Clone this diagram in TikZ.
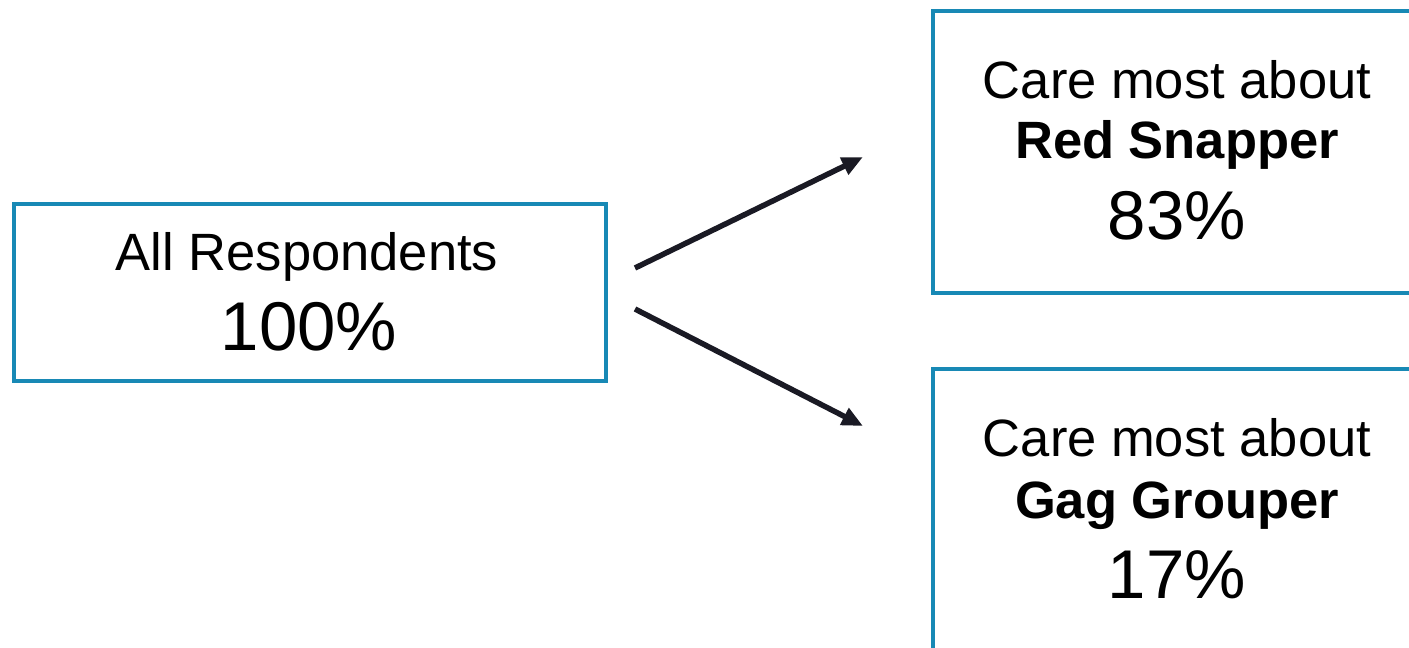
\documentclass[tikz,border=0pt]{standalone}
\usepackage{fontspec}
\setmainfont{Liberation Sans}
\usetikzlibrary{arrows.meta}
\definecolor{boxblue}{RGB}{24,137,181}
\definecolor{arrowdark}{RGB}{26,26,36}
\tikzset{
  box/.style={draw=boxblue, line width=4pt, fill=none, inner sep=0pt, outer sep=0pt},
  lbl/.style={anchor=base, inner sep=0pt, font=\fontsize{52.5}{60}\selectfont},
  blbl/.style={anchor=base, inner sep=0pt, font=\fontsize{52.5}{60}\selectfont\bfseries},
  pct/.style={anchor=base, inner sep=0pt, font=\fontsize{69}{80}\selectfont},
  conn/.style={draw=arrowdark, line width=5.5pt, -{Triangle[length=21pt,width=18pt]}}
}
\begin{document}
\begin{tikzpicture}[x=1pt,y=-1pt]
\useasboundingbox (0,0) rectangle (1409,648);
% boxes
\node[box, minimum width=592.5pt, minimum height=177.5pt] (all) at (309.75,292.25) {};
\node[box, minimum width=489pt, minimum height=282pt] (red) at (1177,151.5) {};
\node[box, minimum width=489pt, minimum height=282pt] (gag) at (1177,509.5) {};
% texts
\node[lbl] (allt) at (307,270) {All Respondents};
\node[pct] (allp) at (309,350.5) {100\%};
\node[lbl] (redt) at (1177,98) {Care most about};
\node[blbl] (redn) at (1177,158) {Red Snapper};
\node[pct] (redp) at (1177,239) {83\%};
\node[lbl] (gagt) at (1177,456) {Care most about};
\node[blbl] (gagn) at (1177,518) {Gag Grouper};
\node[pct] (gagp) at (1177,598) {17\%};
% connectors
\coordinate (s1) at (635,268);
\coordinate (e1) at (863,157);
\coordinate (s2) at (635,309);
\coordinate (e2) at (863,426);
\draw[conn] (s1) -- (e1);
\draw[conn] (s2) -- (e2);
\end{tikzpicture}
\end{document}
